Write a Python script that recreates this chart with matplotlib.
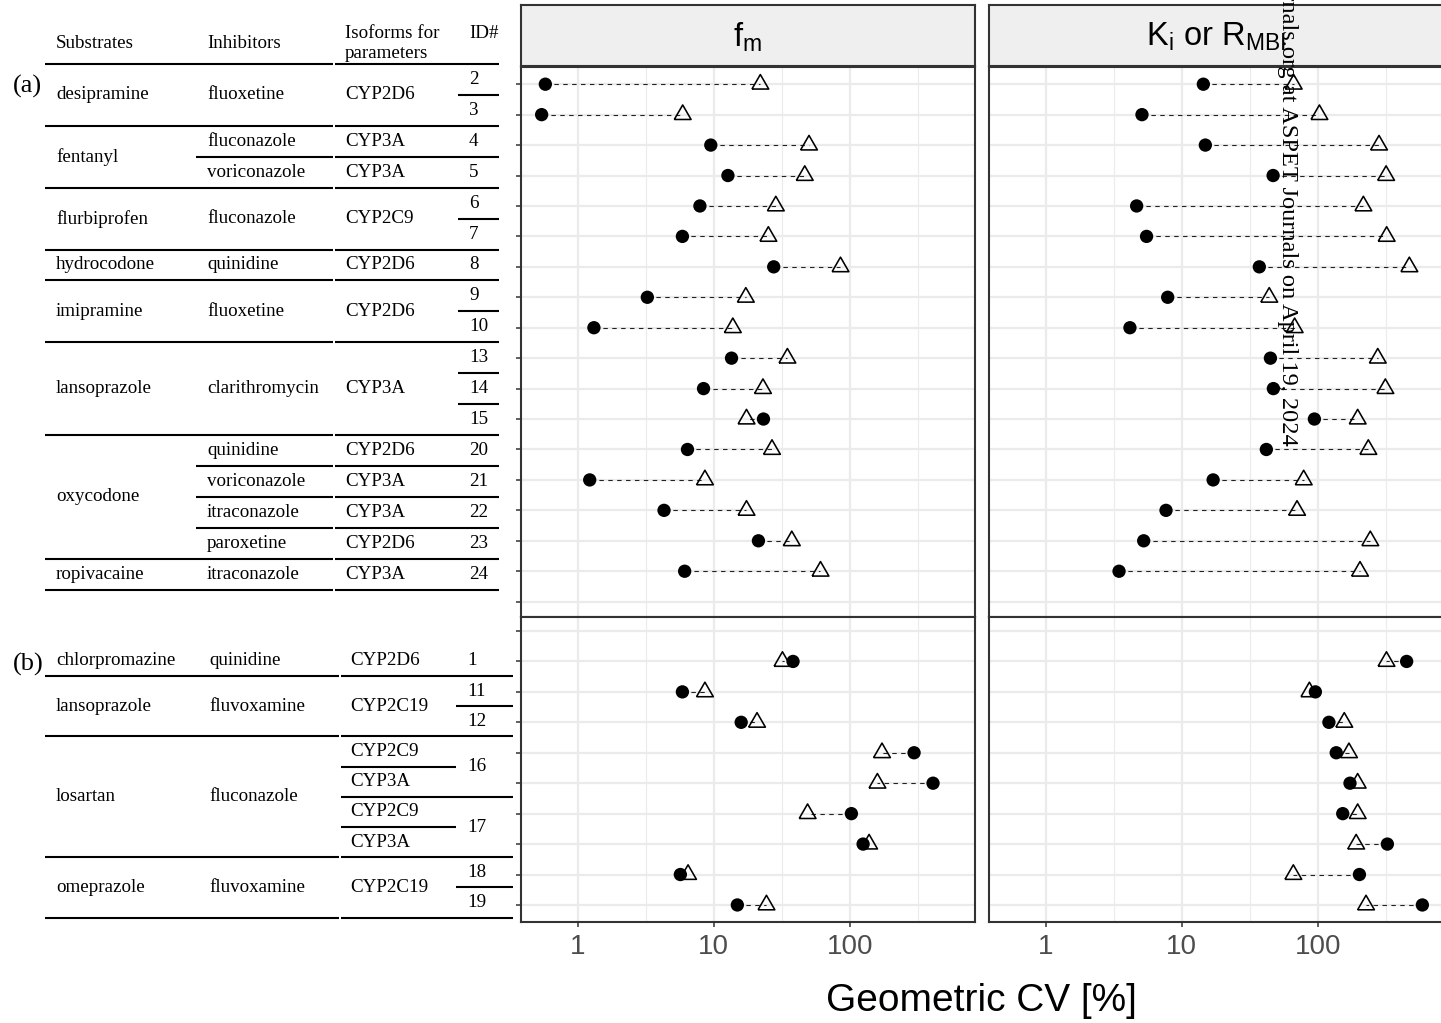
import numpy as np
import matplotlib
matplotlib.use("Agg")
import matplotlib.pyplot as plt
from matplotlib.ticker import FixedLocator, NullFormatter, FixedFormatter

# ---------------------------------------------------------------- data
# (a) rows, top to bottom
ids_a = ["2", "3", "4", "5", "6", "7", "8", "9", "10", "13", "14", "15",
         "20", "21", "22", "23", "24"]
substrates_a = [("desipramine", 2), ("fentanyl", 2), ("flurbiprofen", 2),
                ("hydrocodone", 1), ("imipramine", 2), ("lansoprazole", 3),
                ("oxycodone", 4), ("ropivacaine", 1)]
inhibitors_a = [("fluoxetine", 2), ("fluconazole", 1), ("voriconazole", 1),
                ("fluconazole", 2), ("quinidine", 1), ("fluoxetine", 2),
                ("clarithromycin", 3), ("quinidine", 1), ("voriconazole", 1),
                ("itraconazole", 1), ("paroxetine", 1), ("itraconazole", 1)]
isoforms_a = [("CYP2D6", 2), ("CYP3A", 1), ("CYP3A", 1), ("CYP2C9", 2),
              ("CYP2D6", 1), ("CYP2D6", 2), ("CYP3A", 3), ("CYP2D6", 1),
              ("CYP3A", 1), ("CYP3A", 1), ("CYP2D6", 1), ("CYP3A", 1)]

fm_dot_a = [0.575, 0.54, 9.5, 12.7, 7.9, 5.87, 27.6, 3.24, 1.31, 13.5, 8.4,
            23.2, 6.4, 1.22, 4.3, 21.3, 6.1]
fm_tri_a = [22.0, 5.9, 50.2, 46.7, 28.6, 25.2, 85.6, 17.2, 13.8, 34.8, 23.0,
            17.4, 26.8, 8.6, 17.4, 37.5, 61.0]
ki_dot_a = [14.4, 5.09, 14.9, 47.0, 4.65, 5.5, 37.2, 7.87, 4.15, 44.9, 47.2,
            94.6, 41.9, 17.0, 7.65, 5.24, 3.45]
ki_tri_a = [66.6, 103, 283, 319, 217, 322, 473, 44.0, 67.7, 277, 315, 197,
            236, 78.9, 70.5, 244, 205]

# (b) rows, top to bottom
ids_b = [("1", 1), ("11", 1), ("12", 1), ("16", 2), ("17", 2), ("18", 1),
         ("19", 1)]
substrates_b = [("chlorpromazine", 1), ("lansoprazole", 2), ("losartan", 4),
                ("omeprazole", 2)]
inhibitors_b = [("quinidine", 1), ("fluvoxamine", 2), ("fluconazole", 4),
                ("fluvoxamine", 2)]
isoforms_b = [("CYP2D6", 1), ("CYP2C19", 2), ("CYP2C9", 1), ("CYP3A", 1),
              ("CYP2C9", 1), ("CYP3A", 1), ("CYP2C19", 2)]

fm_dot_b = [38.3, 5.87, 15.9, 298, 411, 103, 125.6, 5.67, 14.9]
fm_tri_b = [32.0, 8.6, 20.8, 173, 160, 49.0, 139, 6.46, 24.4]
ki_dot_b = [452, 96.2, 121, 137, 173, 153, 326, 203, 590]
ki_tri_b = [321, 86.9, 157, 170, 197, 197, 192, 66.2, 227]

x_breaks = [1, 10, 100]
x_labels = ["1", "10", "100"]
x_title = "Geometric CV [%]"
strip_labels = [r"$\mathrm{f_m}$", r"$\mathrm{K_i\ or\ R_{MBI}}$"]
header = ["Substrates", "Inhibitors", "Isoforms for\nparameters", "ID#"]
watermark = ("Downloaded from jpet.aspetjournals.org at ASPET Journals "
             "on April 19, 2024")

# ---------------------------------------------------------------- style
SANS = "Liberation Sans"
SERIF = "Liberation Serif"
plt.rcParams["font.family"] = [SANS, "DejaVu Sans"]
plt.rcParams["mathtext.fontset"] = "custom"
plt.rcParams["mathtext.rm"] = SANS
plt.rcParams["mathtext.it"] = SANS

GRID = "#EBEBEB"
BORDER = "#333333"

W, H = 1441, 1023
fig = plt.figure(figsize=(W / 100, H / 100), dpi=100)


def box(x0, y0, x1, y1):
    """Pixel box (top-left origin) -> figure fraction rect."""
    return [x0 / W, 1 - y1 / H, (x1 - x0) / W, (y1 - y0) / H]


# panel geometry (pixels)
ROW = 30.44
col_x = [(521, 975), (989, 1443)]
top_y0, split_y, bot_y1 = 66.5, 616.7, 921.7
first_a, first_b = 84.2, 631.0
n_slots_a, n_slots_b = 18, 10
ylim_a = ((split_y - first_a) / ROW, -(first_a - top_y0) / ROW)
ylim_b = ((bot_y1 - first_b) / ROW, -(first_b - split_y) / ROW)

# shared log x range with 5 % expansion
all_vals = np.concatenate([fm_dot_a, fm_tri_a, ki_dot_a, ki_tri_a,
                           fm_dot_b, fm_tri_b, ki_dot_b, ki_tri_b])
lmin, lmax = np.log10(all_vals.min()), np.log10(all_vals.max())
pad = 0.05 * (lmax - lmin)
xlim = (10 ** (lmin - pad), 10 ** (lmax + pad))

tri_marker = [(-1.0, -0.577), (1.0, -0.577), (0.0, 1.155), (-1.0, -0.577)]

panels = [
    (0, (top_y0, split_y), ylim_a, n_slots_a, np.arange(17), fm_dot_a, fm_tri_a),
    (1, (top_y0, split_y), ylim_a, n_slots_a, np.arange(17), ki_dot_a, ki_tri_a),
    (0, (split_y, bot_y1), ylim_b, n_slots_b, np.arange(1, 10), fm_dot_b, fm_tri_b),
    (1, (split_y, bot_y1), ylim_b, n_slots_b, np.arange(1, 10), ki_dot_b, ki_tri_b),
]

for col, (y0, y1), ylim, nslots, ypos, dots, tris in panels:
    x0, x1 = col_x[col]
    ax = fig.add_axes(box(x0, y0, x1, y1))
    ax.set_xscale("log")
    ax.set_xlim(*xlim)
    ax.set_ylim(*ylim)
    ax.set_axisbelow(True)
    ax.xaxis.set_major_locator(FixedLocator(x_breaks))
    ax.xaxis.set_major_formatter(FixedFormatter(x_labels))
    ax.xaxis.set_minor_locator(FixedLocator([10 ** -0.5, 10 ** 0.5,
                                             10 ** 1.5, 10 ** 2.5]))
    ax.xaxis.set_minor_formatter(NullFormatter())
    ax.yaxis.set_major_locator(FixedLocator(np.arange(nslots)))
    ax.yaxis.set_minor_locator(FixedLocator([]))
    ax.grid(which="major", color=GRID, lw=1.6)
    ax.grid(which="minor", axis="x", color=GRID, lw=0.8)
    for sp in ax.spines.values():
        sp.set_color(BORDER)
        sp.set_linewidth(1.5)
    ax.tick_params(axis="x", which="minor", length=0)
    if y1 == bot_y1:
        ax.tick_params(axis="x", which="major", length=3.6, width=1.1,
                       color=BORDER, labelsize=20, labelcolor="#4D4D4D",
                       pad=5)
    else:
        ax.tick_params(axis="x", which="major", length=0, labelbottom=False)
    if col == 0:
        ax.tick_params(axis="y", length=3.6, width=1.1, color=BORDER,
                       labelleft=False)
    else:
        ax.tick_params(axis="y", length=0, labelleft=False)

    ax.hlines(ypos, dots, tris, colors="#222222", linestyles=(0, (4, 4)),
              lw=0.8, zorder=2)
    ax.scatter(tris, ypos, marker=tri_marker, s=195, facecolors="none",
               edgecolors="black", linewidths=1.15, zorder=3)
    ax.scatter(dots, ypos, marker="o", s=92, color="black",
               edgecolors="none", zorder=4)

# facet strips
for col, label in enumerate(strip_labels):
    x0, x1 = col_x[col]
    sax = fig.add_axes(box(x0, 5, x1, top_y0))
    sax.set_facecolor("#EFEFEF")
    sax.set_xticks([])
    sax.set_yticks([])
    for sp in sax.spines.values():
        sp.set_color(BORDER)
        sp.set_linewidth(1.5)
    sax.text(0.5, 0.48, label, transform=sax.transAxes, ha="center",
             va="center", fontsize=23.5, color="black")

fig.text(981 / W, 1 - 1001 / H, x_title, ha="center", va="center",
         fontsize=28, color="black")

# ---------------------------------------------------------------- table
tax = fig.add_axes([0, 0, 1, 1], zorder=-1)
tax.set_xlim(0, W)
tax.set_ylim(H, 0)
tax.axis("off")

TFS = 13.7


def draw_table(columns, text_x, extents, top, row_h, top_rule):
    n = sum(c[1] for c in columns[0])
    edges = top + row_h * np.arange(n + 1)
    rule_cols = {k: [] for k in range(n + 1)}
    for c, spans in enumerate(columns):
        start = 0
        for label, size in spans:
            yc = (edges[start] + edges[start + size]) / 2
            tax.text(text_x[c], yc, label, ha="left", va="center",
                     family=SERIF, fontsize=TFS, color="black")
            start += size
            rule_cols[start].append(c)
    ks = list(range(1, n + 1)) + ([0] if top_rule else [])
    for k in ks:
        cols = range(len(columns)) if k in (0, n) else rule_cols[k]
        for c in cols:
            tax.plot(extents[c], [edges[k], edges[k]], color="black",
                     lw=1.5, solid_capstyle="butt")


draw_table([substrates_a, inhibitors_a, isoforms_a, [(i, 1) for i in ids_a]],
           [56, 207, 345, 469],
           [(45, 196), (196, 333), (335, 458), (458, 499)],
           64.0, 30.92, True)
draw_table([substrates_b, inhibitors_b, isoforms_b, ids_b],
           [56, 209, 350, 467],
           [(45, 200), (200, 339), (341, 456), (456, 513)],
           645.8, 30.2, False)

for x, y, s in [(56, 44, header[0]), (207, 44, header[1]), (469, 33, header[3])]:
    tax.text(x, y, s, ha="left", va="center", family=SERIF, fontsize=TFS)
tax.text(345, 33, header[2].split("\n")[0], ha="left", va="center",
         family=SERIF, fontsize=TFS)
tax.text(345, 53, header[2].split("\n")[1], ha="left", va="center",
         family=SERIF, fontsize=TFS)
tax.text(13, 92.3, "(a)", ha="left", va="baseline", family=SERIF, fontsize=19)
tax.text(13, 670.3, "(b)", ha="left", va="baseline", family=SERIF, fontsize=19)

# download stamp running down the right panel
fig.text(1287 / W, 1 - 446 / H, watermark, rotation=270,
         rotation_mode="anchor", ha="right", va="center", family=SERIF,
         fontsize=17.6, color="black", zorder=10)

fig.savefig("out.png", dpi=100)
